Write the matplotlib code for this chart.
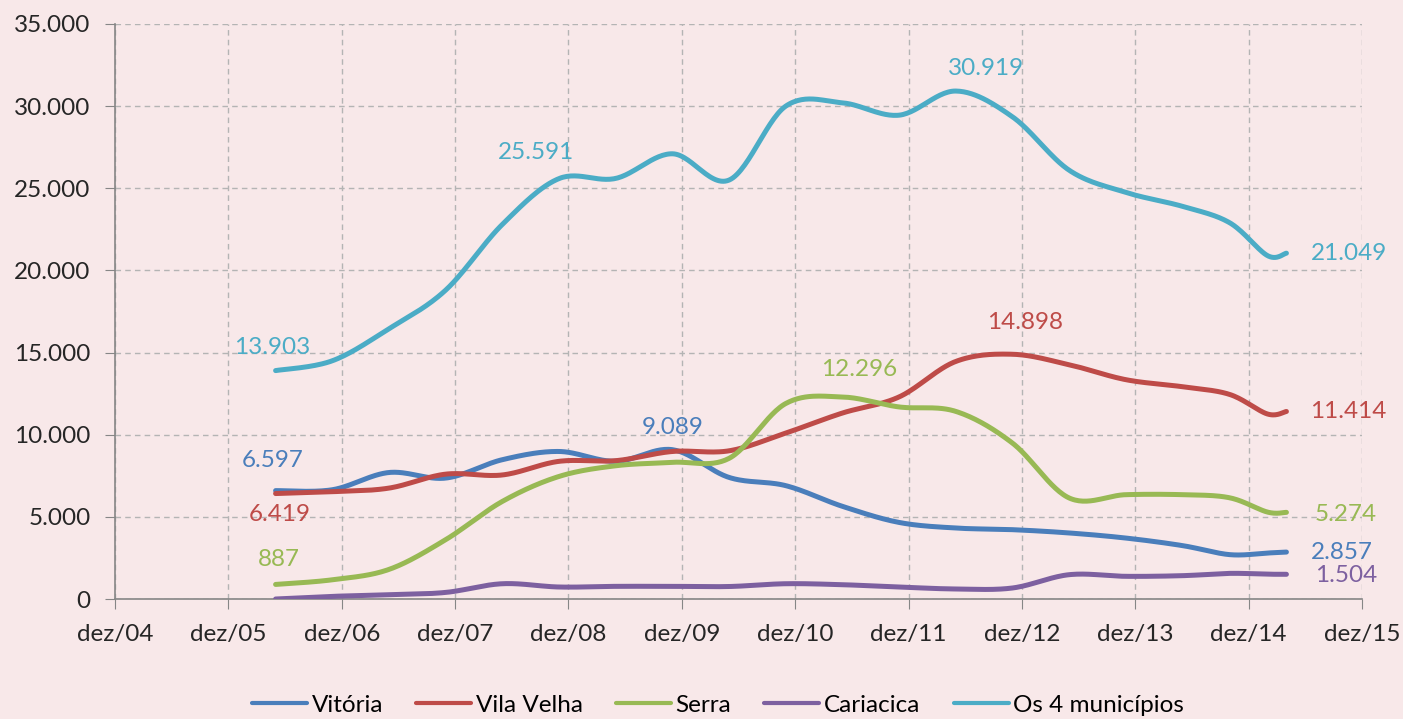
import numpy as np
import matplotlib
matplotlib.use("Agg")
from matplotlib import pyplot as plt

plt.rcParams['font.family'] = ['Lato', 'DejaVu Sans']

# months counted from dez/04
months = [17, 23, 29, 35, 41, 47, 53, 59, 65, 71, 77, 83, 89, 95, 101, 107, 113, 118, 122, 124]

vitoria = [6597, 6650, 7700, 7360, 8480, 8980, 8380, 9089, 7400, 6900,
           5640, 4660, 4320, 4220, 4020, 3710, 3250, 2700, 2800, 2857]
vila_velha = [6419, 6530, 6750, 7600, 7550, 8380, 8420, 8980, 9020, 10100,
              11320, 12300, 14460, 14898, 14260, 13350, 12920, 12450, 11260, 11414]
serra = [887, 1170, 1800, 3610, 5940, 7460, 8110, 8320, 8560, 11900,
         12296, 11690, 11420, 9490, 6150, 6350, 6350, 6160, 5290, 5274]
cariacica = [0, 160, 260, 400, 930, 730, 770, 770, 760, 930,
             870, 730, 610, 670, 1480, 1380, 1420, 1560, 1510, 1504]
total = [13903, 14500, 16450, 18800, 22800, 25591, 25600, 27100, 25500, 30000,
         30200, 29450, 30919, 29350, 26100, 24750, 23900, 22900, 20900, 21049]

names = ['Vitória', 'Vila Velha', 'Serra', 'Cariacica', 'Os 4 municípios']
colors = ['#4A7EBB', '#BE4B48', '#98B954', '#7D60A0', '#4BACC6']

tick_months = list(range(0, 133, 12))
tick_labels = ['dez/%02d' % y for y in range(4, 16)]
y_ticks = list(range(0, 35001, 5000))

# (series index, point index, dx px, dy px, ha)
labels = [
    (4, 0, -3, 23, 'center'), (4, 5, -23, 26, 'center'), (4, 12, 30, 23, 'center'),
    (4, 19, 24, 0, 'left'),
    (0, 0, -3, 30, 'center'), (0, 7, 0, 22, 'center'), (0, 19, 24, 0, 'left'),
    (1, 0, 4, -21, 'center'), (1, 13, 13, 32, 'center'), (1, 19, 24, 0, 'left'),
    (2, 0, 3, 25, 'center'), (2, 10, 17, 27, 'center'), (2, 19, 28, -2, 'left'),
    (3, 19, 29, -1, 'left'),
]

FS = 17.5


def fmt(v):
    return '{:,}'.format(v).replace(',', '.')


def smooth(xs, ys, n=30):
    # bezier curve through the points, like the "smoothed line" option of spreadsheets
    pts = np.column_stack([xs, ys]).astype(float)
    out = []
    t = np.linspace(0, 1, n)[:, None]
    for i in range(len(pts) - 1):
        p0 = pts[max(i - 1, 0)]
        p1 = pts[i]
        p2 = pts[i + 1]
        p3 = pts[min(i + 2, len(pts) - 1)]
        c1 = p1 + (p2 - p0) / 6
        c2 = p2 - (p3 - p1) / 6
        seg = (1 - t) ** 3 * p1 + 3 * (1 - t) ** 2 * t * c1 + 3 * (1 - t) * t ** 2 * c2 + t ** 3 * p2
        out.append(seg if i == 0 else seg[1:])
    return np.vstack(out)


fig = plt.figure(figsize=(14.03, 7.19), dpi=100)
fig.patch.set_facecolor('#f8e8e9')
ax = fig.add_axes([115 / 1403, 1 - 599 / 719, (1362 - 115) / 1403, (599 - 24) / 719])
ax.set_facecolor('none')

series = [vitoria, vila_velha, serra, cariacica, total]
for name, values, color in zip(names, series, colors):
    curve = smooth(months, values)
    ax.plot(curve[:, 0], curve[:, 1], color=color, lw=3.6, label=name,
            solid_capstyle='round', zorder=3)

for s, i, dx, dy, ha in labels:
    ax.annotate(fmt(series[s][i]), (months[i], series[s][i]), xytext=(dx, dy),
                textcoords='offset pixels', ha=ha, va='center', color=colors[s],
                fontsize=FS, zorder=4)

ax.set_xlim(0, 132)
ax.set_ylim(0, 35000)
ax.set_xticks(tick_months)
ax.set_xticklabels(tick_labels)
ax.set_yticks(y_ticks)
ax.set_yticklabels([fmt(v) for v in y_ticks])
ax.tick_params(axis='both', labelsize=FS, colors='#262626', length=7, color='#868686')
ax.tick_params(axis='x', pad=11)
ax.tick_params(axis='y', pad=10.5)
ax.grid(True, color='#b4b4b4', linestyle=(0, (4, 3)), lw=1)
for side in ['top', 'right']:
    ax.spines[side].set_visible(False)
for side in ['left', 'bottom']:
    ax.spines[side].set_color('#868686')
    ax.spines[side].set_linewidth(1.2)

leg = fig.legend(loc='center', bbox_to_anchor=(718 / 1403, 1 - 705 / 719), ncol=5,
                 frameon=False, fontsize=FS, handlelength=2.26, columnspacing=1.36,
                 handletextpad=0.2)
for line in leg.get_lines():
    line.set_linewidth(3)

plt.savefig('out.png', dpi=100, facecolor=fig.get_facecolor())
